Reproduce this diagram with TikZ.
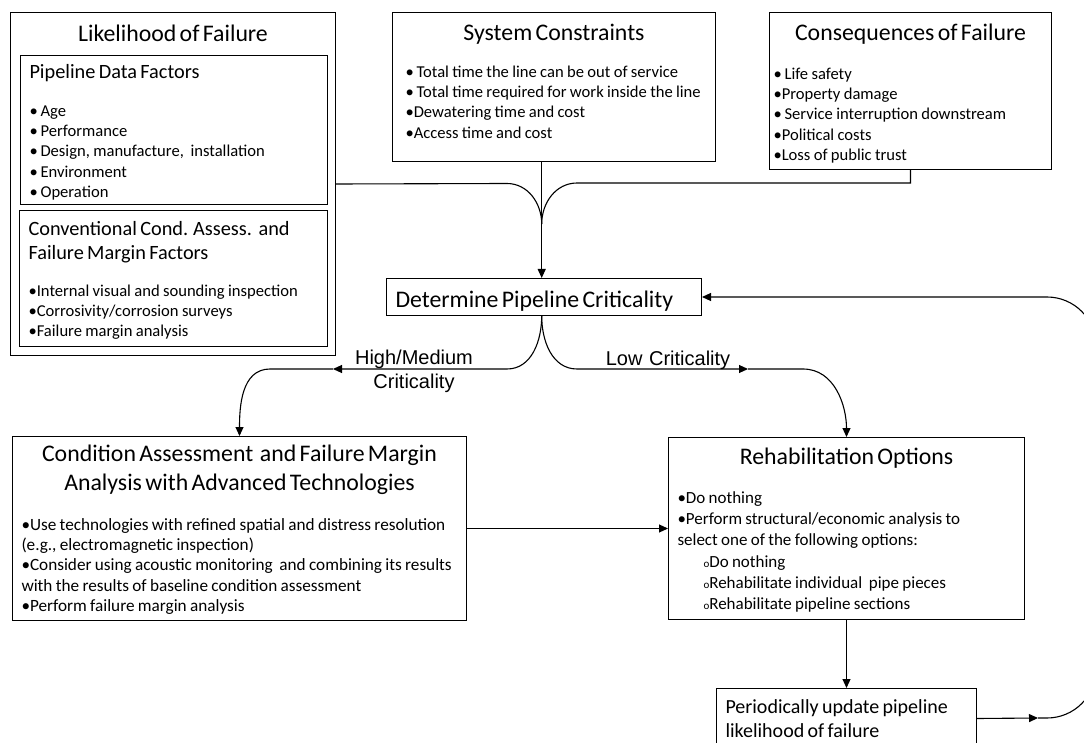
\documentclass[tikz,border=0pt]{standalone}
\usepackage{fontspec}
\setmainfont{Carlito}
\newfontfamily\arialfont{Liberation Sans}
\usetikzlibrary{arrows.meta}

\newcommand{\boxtitle}{\fontsize{23.8}{29}\selectfont}
\newcommand{\boxhead}{\fontsize{20.3}{24}\selectfont}
\newcommand{\boxitem}{\fontsize{16.6}{20.2}\selectfont}

\begin{document}
\begin{tikzpicture}[x=1pt,y=-1pt,
  panel/.style={draw,line width=1pt,anchor=north west,inner xsep=9pt,inner ysep=0pt,align=left},
  lbl/.style={font=\arialfont\fontsize{20}{24}\selectfont,inner sep=0pt,align=center,text width=130pt,anchor=base},
  link/.style={line width=1.1pt},
  arr/.style={line width=1.1pt,-{Triangle[length=9pt,width=8pt]}}]
\useasboundingbox (0,0) rectangle (1084,743);

% input boxes
\node[panel,text width=307pt,text height=29pt,text depth=314pt] (lof) at (10,12)
  {\centering\boxtitle Likelihood of Failure\par};
\node[panel,text width=289pt,text height=23pt,text depth=126pt] (pdf) at (20,55)
  {\boxhead Pipeline Data Factors\par\vspace{17.8pt}
   \boxitem •\,Age\\ •\,Performance\\ •\,Design, manufacture,\ \ installation\\ •\,Environment\\ •\,Operation\par};
\node[panel,text width=290pt,text height=25pt,text depth=111pt] (ccaf) at (19,210)
  {\boxhead Conventional Cond. Assess.\ \ and\\ Failure Margin Factors\par\vspace{16.7pt}
   \boxitem •Internal visual and sounding inspection\\ •Corrosivity/corrosion surveys\\ •Failure margin analysis\par};
\node[panel,inner xsep=13pt,text width=297pt,text height=28pt,text depth=121pt] (sc) at (392,12)
  {\centering\boxtitle System Constraints\par\vspace{16.8pt}\raggedright
   \boxitem •\,Total time the line can be out of service\\ •\,Total time required for work inside the line\\ •Dewatering time and cost\\ •Access time and cost\par};
\node[panel,inner xsep=4pt,text width=274pt,text height=28pt,text depth=129pt] (cof) at (769,12)
  {\centering\boxtitle Consequences of Failure\par\vspace{18.8pt}\raggedright
   \boxitem •\,Life safety\\ •Property damage\\ •\,Service interruption downstream\\ •Political costs\\ •Loss of public trust\par};

% decision and actions
\node[panel,text width=297pt,text height=29pt,text depth=8pt] (crit) at (386,278)
  {\boxtitle Determine Pipeline Criticality\par};
\node[panel,text width=436pt,text height=25pt,text depth=159pt] (cafm) at (12,436)
  {\centering\boxtitle Condition Assessment\ \ and Failure Margin\\ Analysis with Advanced Technologies\par\vspace{19.8pt}\raggedright
   \fontsize{17.2}{20.2}\selectfont •Use technologies with refined spatial and distress resolution\\ (e.g., electromagnetic inspection)\\ •Consider using acoustic monitoring\ \ and combining its results\\ with the results of baseline condition assessment\\ •Perform failure margin analysis\par};
\node[panel,text width=338pt,text height=27pt,text depth=155pt] (rehab) at (668,437)
  {\centering\boxtitle Rehabilitation Options\par\vspace{17.8pt}\raggedright
   \fontsize{17}{21.2}\selectfont •Do nothing\\ •Perform structural/economic analysis to\\ select one of the following options:\\
   \hspace*{26pt}{\fontsize{11}{11}\selectfont o}Do nothing\\ \hspace*{26pt}{\fontsize{11}{11}\selectfont o}Rehabilitate individual\ \ pipe pieces\\ \hspace*{26pt}{\fontsize{11}{11}\selectfont o}Rehabilitate pipeline sections\par};
\node[panel,text width=242pt,text height=25pt,text depth=35pt] (periodic) at (716,688)
  {\fontsize{20}{24}\selectfont Periodically update pipeline\\ likelihood of failure\par};

\node[lbl] (hmlabel) at (414,364) {High/Medium\\Criticality\par};
\node[lbl] (lowlabel) at (668,365) {Low Criticality\par};

\coordinate (merge) at (541.7,224);
\coordinate (hm) at (333,369);
\coordinate (lc) at (748,369);
\coordinate (pu) at (1038,718);
\coordinate (turn) at (1096,718);

% connectors
\draw[link] (lof.east) -- (507,183.5) to[out=0,in=90] (merge);
\draw[link] (cof.south) |- (577,183) to[out=180,in=90] (merge);
\draw[arr] (sc.south -| merge) -- (crit.north -| merge);
\draw[arr] (crit.south -| merge) to[out=-90,in=0] (507,369) -- (hm);
\draw[arr] (hm) -- (270,369) to[out=180,in=90] (cafm.north);
\draw[arr] (crit.south -| merge) to[out=-90,in=180] (577,369) -- (lc);
\draw[arr] (lc) -- (803,369) to[out=0,in=90] (rehab.north);
\draw[arr] (cafm.east) -- (rehab.west);
\draw[arr] (rehab.south) -- (periodic.north);
\draw[arr] (periodic.east) -- (pu);
\draw[arr,rounded corners=49pt] (pu) -- (turn) |- (crit.east);
\end{tikzpicture}
\end{document}
